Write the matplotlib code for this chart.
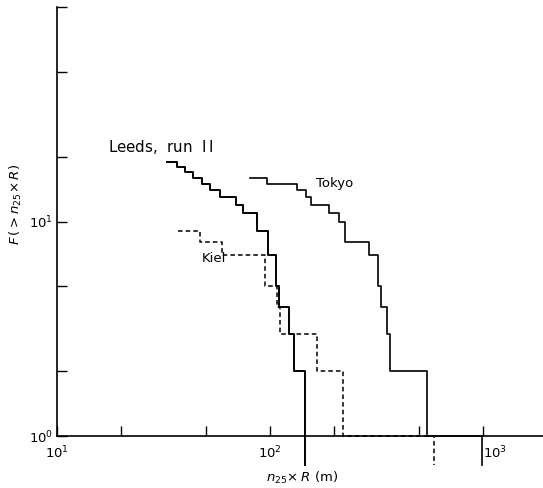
import numpy as np
import matplotlib
matplotlib.use("Agg")
import matplotlib.pyplot as plt

# cumulative counts F(>n25*R): step edges (m) and the count held between edges
leeds_x = [32.8, 36.6, 39.9, 43.5, 48.0, 52.3, 58.3, 69.2, 74.7, 86.9, 97.9,
           106.7, 110.2, 122.8, 129.6, 146.0]
leeds_f = [19, 18, 17, 16, 15, 14, 13, 12, 11, 9, 7, 5, 4, 3, 2]

tokyo_x = [80.5, 96.8, 133.9, 147.6, 155.8, 189.2, 210.9, 225.0, 291.6, 321.4,
           331.9, 354.3, 366.0, 546.0, 990.0]
tokyo_f = [16, 15, 14, 13, 12, 11, 10, 8, 7, 5, 4, 3, 2, 1]

kiel_x = [37.0, 46.9, 59.5, 94.7, 107.9, 111.4, 166.2, 220.1, 589.0]
kiel_f = [9, 8, 7, 5, 4, 3, 2, 1]

tail = 0.73   # the last drop runs a little below the axis

fig = plt.figure(figsize=(5.43, 4.88), dpi=100)
ax = fig.add_axes([57/543, 52/488, 490/543, 429/488])
ax.set_xscale("log")
ax.set_yscale("log")
ax.set_xlim(10, 2000)
ax.set_ylim(1, 100)

def stair(xs, fs, **kw):
    ys = list(fs) + [tail]
    ax.step(xs, ys, where="post", clip_on=False, **kw)

stair(leeds_x, leeds_f, color="black", lw=1.4)
stair(tokyo_x, tokyo_f, color="black", lw=1.2)
stair(kiel_x, kiel_f, color="black", lw=1.1, linestyle=(0, (3, 2)))

ax.text(17.3, 22.3, r"Leeds,  run  $\mathrm{I\,I}$", fontsize=10.8, va="center", ha="left")
ax.text(164, 15.0, "Tokyo", fontsize=9.5, va="center", ha="left")
ax.text(48, 6.7, "Kiel", fontsize=9.5, va="center", ha="left")

for s in ["top", "right"]:
    ax.spines[s].set_visible(False)
ax.spines["left"].set_linewidth(1.2)
ax.spines["bottom"].set_linewidth(1.2)

ax.set_xticks([10, 20, 50, 100, 200, 500, 1000])
ax.set_xticklabels([r"$10^1$", "", "", r"$10^2$", "", "", r"$10^3$"])
ax.xaxis.set_minor_locator(matplotlib.ticker.NullLocator())
ax.set_yticks([1, 2, 5, 10, 20, 50, 100])
ax.set_yticklabels([r"$10^0$", "", "", r"$10^1$", "", "", ""])
ax.yaxis.set_minor_locator(matplotlib.ticker.NullLocator())
ax.tick_params(axis="both", direction="in", length=7, width=1.0, labelsize=9.5)
ax.tick_params(axis="x", pad=6)
ax.tick_params(axis="y", pad=3)
ax.get_xticklabels()[-1].set_ha("left")

ax.set_xlabel(r"$n_{25}\!\times R$ (m)", fontsize=9.5)
ax.set_ylabel(r"$F\,(>n_{25}\!\times R)$", fontsize=9.5)
ax.yaxis.set_label_coords(-0.068, 0.54)
ax.xaxis.set_label_coords(0.5, -0.08)

fig.savefig("out.png", dpi=100)
